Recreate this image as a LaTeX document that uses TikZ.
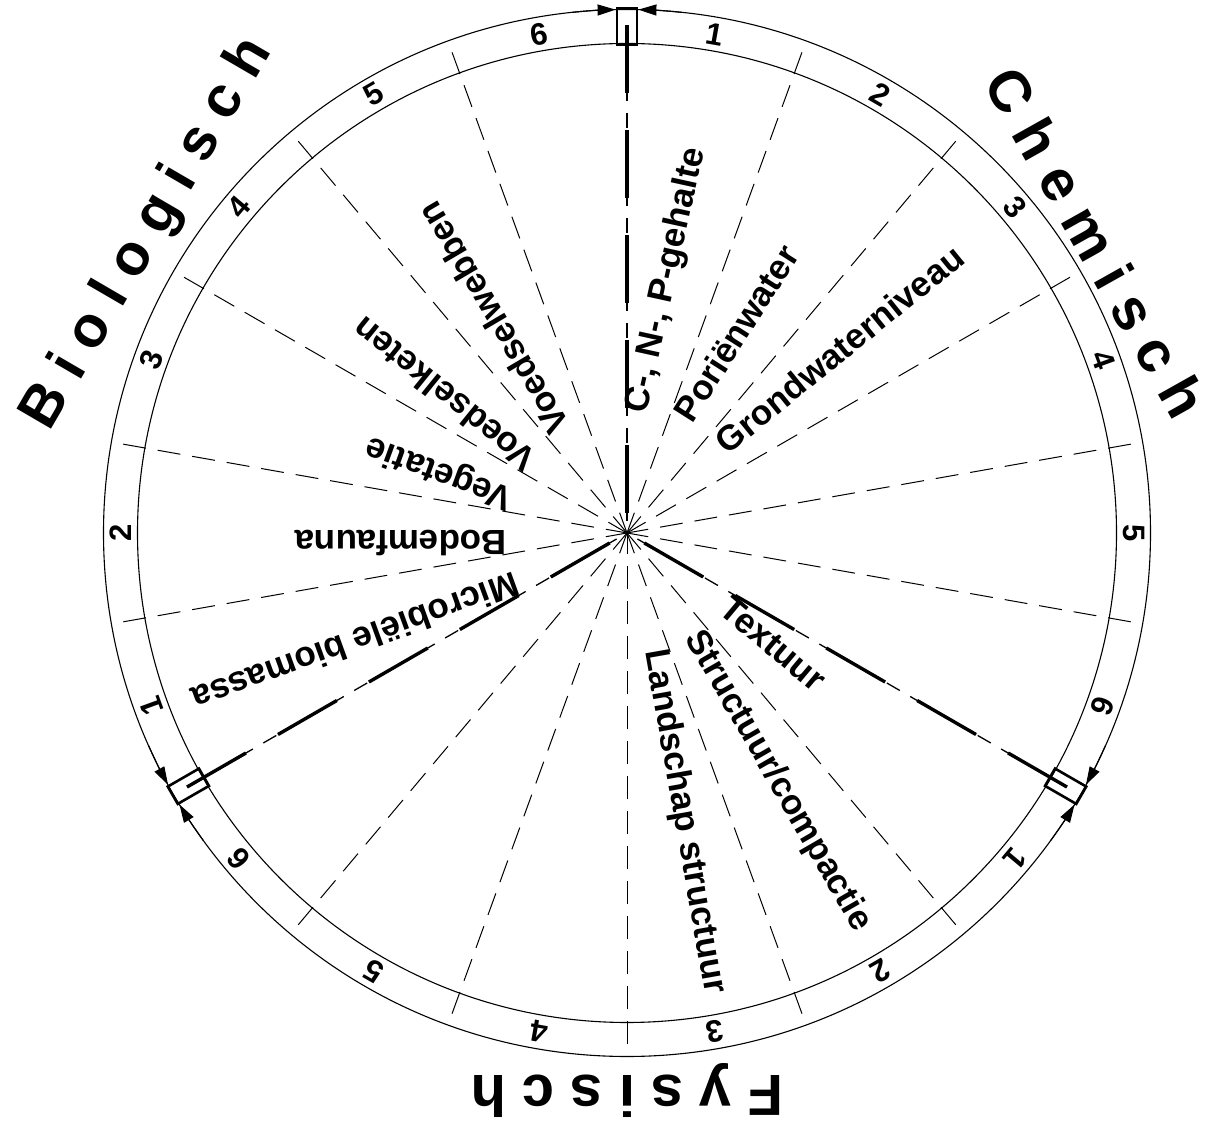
\documentclass[tikz,border=0pt]{standalone}
\usepackage{fontspec}
\setmainfont{Liberation Sans}
\usetikzlibrary{arrows.meta,calc}
\begin{document}
\begin{tikzpicture}[x=1pt,y=1pt,
  ring/.style={line width=1.1pt},
  spoke/.style={line width=1pt, dash pattern=on 23pt off 12pt, dash phase=23pt},
  chainthick/.style={line width=3.4pt, dash pattern=on 68pt off 37pt, dash phase=85pt},
  chainthin/.style={line width=1.3pt, dash pattern=on 76pt off 2pt on 15pt off 12pt, dash phase=93pt},
  marker/.style={draw, line width=2.6pt, minimum width=36pt, minimum height=20pt, inner sep=0pt},
  num/.style={font=\fontsize{31}{31}\selectfont\bfseries, inner sep=0pt},
  lab/.style={font=\fontsize{35}{35}\selectfont\bfseries, inner sep=0pt, anchor=mid west},
  title/.style={font=\fontsize{58}{58}\selectfont\bfseries, inner sep=0pt, anchor=base},
  tip/.style={-{Triangle[length=18pt,width=11pt]}, line width=1.1pt}
]
\fill[white] (0,0) rectangle (1210,1129);
\useasboundingbox (0,0) rectangle (1210,1129);
\coordinate (O) at (627,596);

% dashed spokes (continuing through the ring as ticks)
\foreach \a in {10,30,50,70,110,130,150,170,190,230,250,270,290,310,350}{
  \coordinate (s\a) at ($(O)+(\a:523.5)$);
  \draw[spoke] (s\a) -- (O);
}
% ring
\draw[ring] (O) circle[radius=489.5];
\draw[ring] (O) circle[radius=523.5];

% chain lines, marker boxes and arrows
\foreach \a in {90,210,330}{
  \coordinate (e\a) at ($(O)+(\a:508)$);
  \draw[chainthin] (O) -- (e\a);
  \draw[chainthick] (O) -- (e\a);
  \node[marker, rotate=\a] (m\a) at ($(O)+(\a:506.5)$) {};
  \pgfmathsetmacro\aa{\a+6}\pgfmathsetmacro\ab{\a+1.25}
  \pgfmathsetmacro\ba{\a-6}\pgfmathsetmacro\bb{\a-1.25}
  \draw[tip] ($(O)+(\aa:523.5)$) arc[start angle=\aa, end angle=\ab, radius=523.5];
  \draw[tip] ($(O)+(\ba:523.5)$) arc[start angle=\ba, end angle=\bb, radius=523.5];
}

% ring numbers
\foreach \s in {0,1,2}{\foreach \n in {1,...,6}{
  \pgfmathsetmacro\ang{80-120*\s-20*(\n-1)}
  \node[num, rotate=\ang-90] (n\s\n) at ($(O)+(\ang:506.5)$) {\n};
}}

% inner labels
\node[lab, rotate=77.6]  (l1)  at ($(O)+(82:120)$)   {C-, N-, P-gehalte};
\node[lab, rotate=57.5]  (l2)  at ($(O)+(60:127)$)   {Poriënwater};
\node[lab, rotate=39]    (l3)  at ($(O)+(38.7:127)$) {Grondwaterniveau};
\node[lab, rotate=120.5] (l4)  at ($(O)+(119:122)$)  {Voedselwebben};
\node[lab, rotate=141]   (l5)  at ($(O)+(140:118)$)  {Voedselketen};
\node[lab, rotate=160]   (l6)  at ($(O)+(160:120)$)  {Vegetatie};
\node[lab, rotate=180]   (l7)  at ($(O)+(180:120)$)  {Bodemfauna};
\node[lab, rotate=200]   (l8)  at ($(O)+(200:120)$)  {Microbiële biomassa};
\node[lab, rotate=-40]   (l9)  at ($(O)+(-40:120)$)  {Textuur};
\node[lab, rotate=-60]   (l10) at ($(O)+(-60:120)$)  {Structuur/compactie};
\node[lab, rotate=-80]   (l11) at ($(O)+(-80:120)$)  {Landschap structuur};

% titles
\node[title, rotate=-60.7] (tc) at (1078,876.2) {C h e m i s c h};
\node[title, rotate=59.8]  (tb) at (161,887.3)  {B i o l o g i s c h};
\node[title, rotate=180]   (tf) at (627,53)     {F y s i s c h};
\end{tikzpicture}
\end{document}
